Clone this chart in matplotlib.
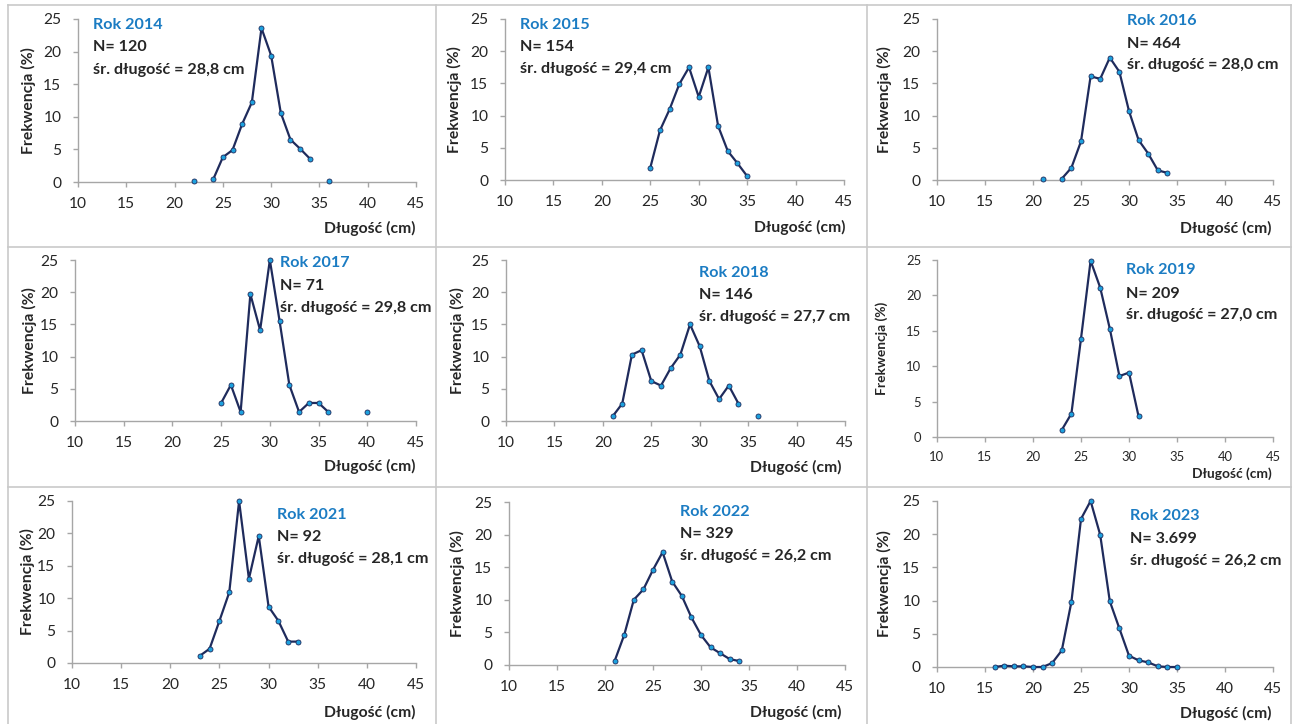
import numpy as np
import matplotlib
matplotlib.use("Agg")
import matplotlib.pyplot as plt
from matplotlib.lines import Line2D

plt.rcParams['font.family'] = ['Lato', 'DejaVu Sans']

nan = np.nan

# ---- data ----
years = ["2014", "2015", "2016", "2017", "2018", "2019", "2021", "2022", "2023"]
n_labels = ["120", "154", "464", "71", "146", "209", "92", "329", "3.699"]
mean_labels = ["28,8", "29,4", "28,0", "29,8", "27,7", "27,0", "28,1", "26,2", "26,2"]

len_2014 = [22, 23, 24, 25, 26, 27, 28, 29, 30, 31, 32, 33, 34, 35, 36]
frq_2014 = [0.2, nan, 0.4, 3.8, 4.9, 8.9, 12.2, 23.6, 19.4, 10.6, 6.5, 5.1, 3.6, nan, 0.2]

len_2015 = [25, 26, 27, 28, 29, 30, 31, 32, 33, 34, 35]
frq_2015 = [1.9, 7.7, 11.0, 14.9, 17.5, 12.9, 17.5, 8.4, 4.5, 2.6, 0.6]

len_2016 = [21, 22, 23, 24, 25, 26, 27, 28, 29, 30, 31, 32, 33, 34]
frq_2016 = [0.2, nan, 0.2, 1.9, 6.0, 16.1, 15.7, 19.0, 16.8, 10.7, 6.2, 4.1, 1.5, 1.1]

len_2017 = [25, 26, 27, 28, 29, 30, 31, 32, 33, 34, 35, 36, 37, 38, 39, 40]
frq_2017 = [2.8, 5.6, 1.4, 19.7, 14.1, 25.0, 15.5, 5.6, 1.4, 2.8, 2.8, 1.4, nan, nan, nan, 1.4]

len_2018 = [21, 22, 23, 24, 25, 26, 27, 28, 29, 30, 31, 32, 33, 34, 35, 36]
frq_2018 = [0.7, 2.7, 10.3, 11.0, 6.2, 5.5, 8.2, 10.3, 15.0, 11.6, 6.2, 3.4, 5.5, 2.7, nan, 0.7]

len_2019 = [23, 24, 25, 26, 27, 28, 29, 30, 31]
frq_2019 = [1.0, 3.3, 13.9, 24.9, 21.1, 15.3, 8.6, 9.1, 2.9]

len_2021 = [23, 24, 25, 26, 27, 28, 29, 30, 31, 32, 33]
frq_2021 = [1.1, 2.2, 6.5, 10.9, 25.0, 13.0, 19.6, 8.7, 6.5, 3.3, 3.3]

len_2022 = [21, 22, 23, 24, 25, 26, 27, 28, 29, 30, 31, 32, 33, 34]
frq_2022 = [0.6, 4.6, 10.0, 11.6, 14.6, 17.3, 12.8, 10.6, 7.3, 4.6, 2.7, 1.8, 0.9, 0.6]

len_2023 = [16, 17, 18, 19, 20, 21, 22, 23, 24, 25, 26, 27, 28, 29, 30, 31, 32, 33, 34, 35]
frq_2023 = [0.0, 0.2, 0.1, 0.1, 0.0, 0.0, 0.6, 2.5, 9.8, 22.3, 25.0, 19.9, 9.9, 5.8, 1.7, 1.0, 0.7, 0.1, 0.0, 0.0]

lengths = [len_2014, len_2015, len_2016, len_2017, len_2018, len_2019, len_2021, len_2022, len_2023]
freqs = [frq_2014, frq_2015, frq_2016, frq_2017, frq_2018, frq_2019, frq_2021, frq_2022, frq_2023]

x_ticks = [10, 15, 20, 25, 30, 35, 40, 45]
y_ticks = [0, 5, 10, 15, 20, 25]

# ---- layout (pixels) ----
W, H = 1295, 724
# left, right, top, bottom of each plot area
boxes = [(78, 416, 19, 182), (505, 844, 19, 180), (937, 1273, 19, 180),
         (75, 416, 260, 421), (506, 845, 260, 421), (937, 1273, 260, 437),
         (72, 416, 501, 663), (509, 845, 502, 665), (937, 1273, 501, 667)]
# text anchors in axes fraction: x, y(Rok), y(N), y(sr)
txt = [(0.044, 0.963, 0.828, 0.687), (0.044, 0.963, 0.828, 0.687), (0.565, 0.988, 0.845, 0.714),
       (0.601, 0.981, 0.839, 0.700), (0.569, 0.919, 0.783, 0.646), (0.5625, 0.944, 0.808, 0.690),
       (0.596, 0.914, 0.778, 0.642), (0.509, 0.939, 0.804, 0.669), (0.574, 0.910, 0.771, 0.639)]
xlab = [(416, 228), (846, 227), (1272, 228), (416, 466), (841, 467), (1272, 474),
        (416, 712), (841, 712), (1272, 713)]
ylab_x = [28, 454, 884, 29, 457, 882, 27, 457, 884]

LINE = '#1F2B5C'
MARK = '#1DA1DE'
BLUE = '#1B7CC3'
TXT = '#262626'
AX = '#A6A6A6'

fig = plt.figure(figsize=(W / 100, H / 100), dpi=100)

# cell borders
bc = '#C9C9C9'
for xs in [8, 436, 867, 1291]:
    fig.add_artist(Line2D([xs / W, xs / W], [0, 1 - 5 / H], color=bc, lw=1.2, transform=fig.transFigure))
for ys in [5, 247, 487]:
    fig.add_artist(Line2D([8 / W, 1291 / W], [1 - ys / H, 1 - ys / H], color=bc, lw=1.2, transform=fig.transFigure))

for i in range(9):
    l, r, t, b = boxes[i]
    ax = fig.add_axes([l / W, 1 - b / H, (r - l) / W, (b - t) / H])
    small = (i == 5)
    tfs = 9.4 if small else 11.2
    ax.plot(lengths[i], freqs[i], color=LINE, lw=1.6, marker='o', ms=3.6,
            mfc=MARK, mec=LINE, mew=0.6, clip_on=False, zorder=3)
    ax.set_xlim(10, 45)
    ax.set_ylim(0, 25)
    ax.set_xticks(x_ticks)
    ax.set_yticks(y_ticks)
    for s in ['top', 'right']:
        ax.spines[s].set_visible(False)
    for s in ['left', 'bottom']:
        ax.spines[s].set_color(AX)
        ax.spines[s].set_linewidth(1.0)
    ax.tick_params(axis='both', colors=AX, labelcolor=TXT, labelsize=tfs, width=1.0, length=3.5)
    ax.tick_params(axis='x', pad=7.5 if not small else 6.5)
    ax.tick_params(axis='y', pad=8.5 if not small else 8)
    ax.patch.set_alpha(0)

    tx, y1, y2, y3 = txt[i]
    afs = 11.6
    ax.text(tx, y1, "Rok " + years[i], transform=ax.transAxes, color=BLUE, fontsize=afs,
            fontweight='bold', va='center', ha='left')
    ax.text(tx, y2, "N= " + n_labels[i], transform=ax.transAxes, color=TXT, fontsize=afs,
            fontweight='bold', va='center', ha='left')
    ax.text(tx, y3, "śr. długość = " + mean_labels[i] + " cm", transform=ax.transAxes, color=TXT,
            fontsize=afs, fontweight='bold', va='center', ha='left')

    xr, xy = xlab[i]
    fig.text(xr / W, 1 - xy / H, "Długość (cm)", ha='right', va='center', color=TXT,
             fontsize=9.9 if small else 11.3, fontweight='bold')
    fig.text(ylab_x[i] / W, 1 - ((t + b) / 2) / H, "Frekwencja (%)", ha='center', va='center',
             rotation=90, color=TXT, fontsize=9.9 if small else 11.3, fontweight='bold')

fig.savefig("out.png", dpi=100, facecolor='white')
